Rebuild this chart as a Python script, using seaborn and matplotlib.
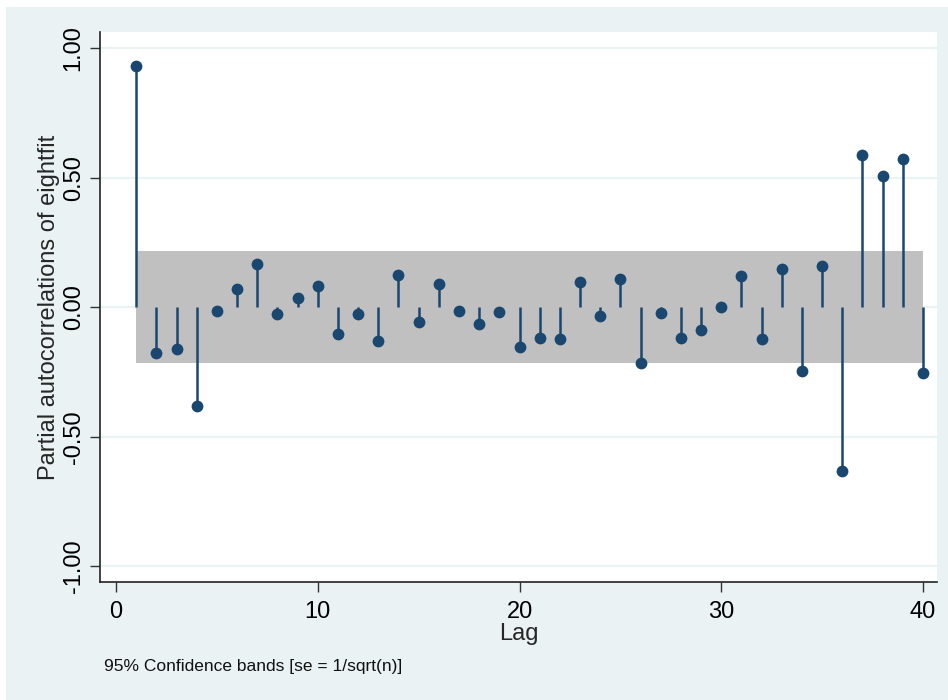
import numpy as np
import pandas as pd
import matplotlib
matplotlib.use("Agg")
import matplotlib.pyplot as plt
from matplotlib.patches import Rectangle
import seaborn as sns

# --- Data ---
lags = list(range(1, 41))
pacf = [0.933, -0.175, -0.161, -0.382, -0.013, 0.071, 0.168, -0.027, 0.037, 0.082,
        -0.104, -0.026, -0.130, 0.125, -0.057, 0.090, -0.013, -0.066, -0.017, -0.154,
        -0.120, -0.121, 0.099, -0.032, 0.110, -0.214, -0.023, -0.117, -0.088, 0.002,
        0.120, -0.121, 0.149, -0.244, 0.159, -0.631, 0.590, 0.506, 0.571, -0.255]
band = 0.216  # 95% band, se = 1/sqrt(n)
y_ticks = [-1.0, -0.5, 0.0, 0.5, 1.0]
x_ticks = [0, 10, 20, 30, 40]

# --- Style ---
NAVY = "#1A476F"
BAND = "#C0C0C0"
OUTER = "#EAF2F3"

sns.set_theme(style="white")
plt.rcParams['font.family'] = ['Liberation Sans', 'DejaVu Sans']

df = pd.DataFrame({"lag": lags, "pacf": pacf})

fig = plt.figure(figsize=(9.48, 7.0), dpi=100, facecolor="white")
fig.patches.append(Rectangle((6 / 948, 0), 942 / 948, 1 - 7 / 700,
                             transform=fig.transFigure, facecolor=OUTER,
                             edgecolor="none", zorder=-10))
ax = fig.add_axes([100 / 948, 1 - 582 / 700, 837 / 948, 550 / 700])
ax.set_facecolor("white")

# gridlines
for yv in y_ticks:
    ax.axhline(yv, color=OUTER, lw=1.6, zorder=1)

# confidence band
ax.fill_between(df["lag"], -band, band, color=BAND, lw=0, zorder=2)

# stems + markers
ax.vlines(df["lag"], 0, df["pacf"], color=NAVY, lw=1.8, zorder=3)
sns.scatterplot(data=df, x="lag", y="pacf", ax=ax, color=NAVY, s=72,
                edgecolor=NAVY, linewidth=0, zorder=4)

ax.set_xlim(-0.8, 40.7)
ax.set_ylim(-1.06, 1.063)
ax.set_xticks(x_ticks)
ax.set_yticks(y_ticks)
ax.set_yticklabels([f"{v:.2f}" for v in y_ticks], rotation=90, va="center")
ax.tick_params(axis="both", which="major", labelsize=17, length=7, width=1,
               color="#333333", labelcolor="black", pad=4)
ax.tick_params(axis="x", pad=7)
ax.tick_params(bottom=True, left=True)

for s in ["top", "right"]:
    ax.spines[s].set_visible(False)
for s in ["left", "bottom"]:
    ax.spines[s].set_color("#222222")
    ax.spines[s].set_linewidth(1.2)

ax.set_xlabel("Lag", fontsize=17, labelpad=0)
ax.set_ylabel("Partial autocorrelations of eightfit", fontsize=17, labelpad=2)

fig.text(104 / 948, 1 - 666 / 700, "95% Confidence bands [se = 1/sqrt(n)]",
         fontsize=12.5, va="center", ha="left", color="#111111")

fig.savefig("out.png", dpi=100, facecolor=fig.get_facecolor())
